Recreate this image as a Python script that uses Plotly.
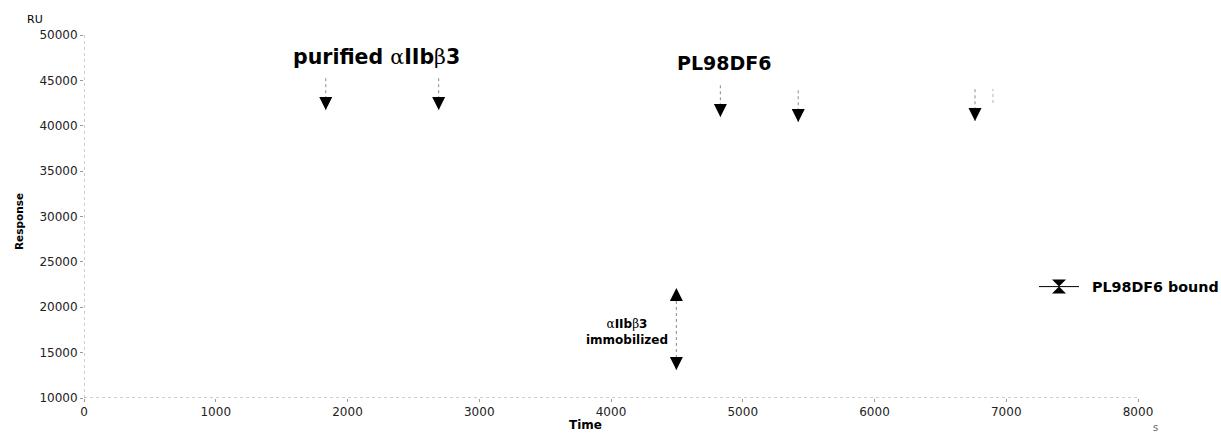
import plotly.graph_objects as go

# ---- data ----
x_ticks = [0, 1000, 2000, 3000, 4000, 5000, 6000, 7000, 8000]
y_ticks = [10000, 15000, 20000, 25000, 30000, 35000, 40000, 45000, 50000]
x_range = [0, 8000]
y_range = [10000, 50000]

purified_times = [1835, 2692]          # s, injection of purified aIIbb3
purified_tips = [41740, 41740]         # RU, arrow tip level
pl_times = [4830, 5421, 6763]          # s, PL98DF6 injections
pl_tips = [40960, 40410, 40520]        # RU
immob_time = 4496                      # s
immob_low, immob_high = 13085, 22121   # RU, immobilized level span
faint_trace_t = [6899, 6899]           # faint remnant of sensorgram
faint_trace_r = [42510, 44050]
legend_label = "PL98DF6 bound"

STEM = 3500  # RU length of the arrow stems

FONT = "DejaVu Sans"
fig = go.Figure()

def add_down_arrows(times, tips):
    for t, tip in zip(times, tips):
        fig.add_trace(go.Scatter(x=[t, t], y=[tip + STEM, tip], mode="lines",
                                 line=dict(color="#8a8a8a", width=1, dash="dot"),
                                 showlegend=False, hoverinfo="skip"))
    fig.add_trace(go.Scatter(x=times, y=tips, mode="markers",
                             marker=dict(symbol="arrow-down", size=13, color="black",
                                         line=dict(width=0)),
                             showlegend=False, hoverinfo="skip"))

add_down_arrows(purified_times, purified_tips)
add_down_arrows(pl_times, pl_tips)

# immobilized double arrow
fig.add_trace(go.Scatter(x=[immob_time, immob_time], y=[immob_low, immob_high], mode="lines",
                         line=dict(color="#8a8a8a", width=1, dash="dot"),
                         showlegend=False, hoverinfo="skip"))
fig.add_trace(go.Scatter(x=[immob_time], y=[immob_high], mode="markers",
                         marker=dict(symbol="arrow-up", size=13, color="black"),
                         showlegend=False, hoverinfo="skip"))
fig.add_trace(go.Scatter(x=[immob_time], y=[immob_low], mode="markers",
                         marker=dict(symbol="arrow-down", size=13, color="black"),
                         showlegend=False, hoverinfo="skip"))

fig.add_trace(go.Scatter(x=faint_trace_t, y=faint_trace_r, mode="lines",
                         line=dict(color="#b5b5b5", width=1, dash="dot"),
                         showlegend=False, hoverinfo="skip"))

# legend entry (symbol only; label drawn as text next to it)
fig.add_trace(go.Scatter(x=[None], y=[None], mode="lines+markers",
                         name="\u00a0",
                         line=dict(color="black", width=1),
                         marker=dict(symbol="hourglass", size=14, color="black")))

# dotted axis lines
fig.add_shape(type="line", x0=x_range[0], x1=x_range[1], y0=y_range[0], y1=y_range[0],
              line=dict(color="#9a9a9a", width=1, dash="dot"), layer="below")
fig.add_shape(type="line", x0=x_range[0], x1=x_range[0], y0=y_range[0], y1=y_range[1],
              line=dict(color="#9a9a9a", width=1, dash="dot"), layer="below")

greek = "<span style='font-family:DejaVu Serif;font-weight:normal'>%s</span>"
alpha = greek % "α"
beta = greek % "β"

L, R, T, B, W, H = 84, 83, 35, 35, 1221, 433
pw, ph = W - L - R, H - T - B

def px(xp):
    return (xp - L) / pw

def py(yp):
    return (H - B - yp) / ph

annots = [
    dict(x=px(376), y=py(57), text="<b>purified " + alpha + "IIb" + beta + "3</b>", size=20.5),
    dict(x=px(724), y=py(63), text="<b>PL98DF6</b>", size=19),
    dict(x=px(627), y=py(332), text="<b>" + alpha + "IIb" + beta + "3<br>immobilized</b>", size=12),
    dict(x=px(35), y=py(20), text="RU", size=11),
    dict(x=px(585), y=py(425), text="<b>Time</b>", size=12),
    dict(x=px(1155), y=py(427), text="s", size=10, color="#666"),
]
for a in annots:
    fig.add_annotation(x=a["x"], y=a["y"], xref="paper", yref="paper", text=a["text"],
                       showarrow=False, xanchor="center", yanchor="middle",
                       font=dict(family=FONT, size=a["size"], color=a.get("color", "black")))
fig.add_annotation(x=px(19), y=py(222), xref="paper", yref="paper", text="<b>Response</b>",
                   textangle=-90, showarrow=False, xanchor="center", yanchor="middle",
                   font=dict(family=FONT, size=10.5, color="black"))
fig.add_annotation(x=px(1090), y=py(287), xref="paper", yref="paper",
                   text="<b>" + legend_label + "</b>", showarrow=False,
                   xanchor="left", yanchor="middle",
                   font=dict(family=FONT, size=14.3, color="black"))

fig.update_layout(
    width=W, height=H,
    margin=dict(l=L, r=R, t=T, b=B, pad=0),
    paper_bgcolor="white", plot_bgcolor="white",
    font=dict(family=FONT, size=12, color="#222"),
    showlegend=True,
    legend=dict(x=px(1034), y=py(287), xanchor="left", yanchor="middle",
                bgcolor="rgba(0,0,0,0)", borderwidth=0, itemwidth=40,
                font=dict(family=FONT, size=14, color="black")),
    xaxis=dict(range=x_range, tickvals=x_ticks, ticktext=[str(v) for v in x_ticks],
               showgrid=False, zeroline=False, showline=False,
               ticks="outside", ticklen=3, tickcolor="#999", tickfont=dict(size=12, color="#222")),
    yaxis=dict(range=y_range, tickvals=y_ticks, ticktext=[str(v) for v in y_ticks],
               showgrid=False, zeroline=False, showline=False,
               ticks="outside", ticklen=3, tickcolor="#999", tickfont=dict(size=12, color="#222")),
)

fig.write_html("out.html", config={"displayModeBar": False},
               post_script="document.body.style.margin='0';document.body.style.overflow='hidden';")
